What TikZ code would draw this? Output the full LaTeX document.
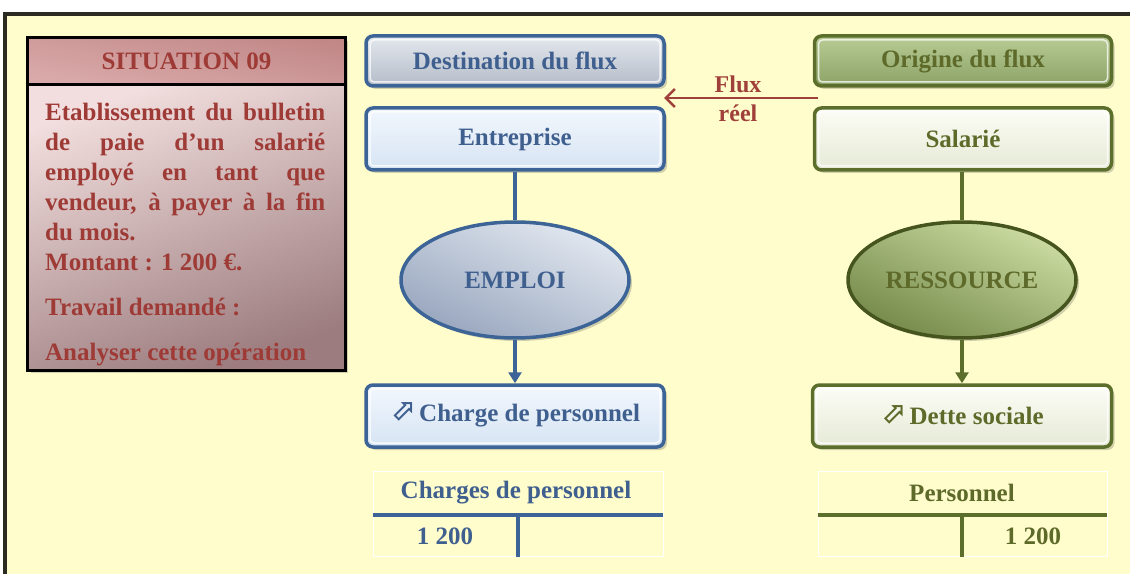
\documentclass[tikz,border=0pt]{standalone}
\usepackage{fontspec}
\setmainfont{Liberation Serif}
\newfontfamily\symfont{DejaVu Sans}
\usetikzlibrary{shapes.geometric,shadows,arrows.meta}
\definecolor{bgyellow}{HTML}{FFFDCB}
\definecolor{framedark}{HTML}{2B2B22}
\definecolor{sitred}{HTML}{9E3B36}
\definecolor{bluebd}{HTML}{3D6496}
\definecolor{bluetx}{HTML}{3F5F8F}
\definecolor{greenbd}{HTML}{5B6E2C}
\definecolor{greentx}{HTML}{5E6A2A}
\definecolor{fluxred}{HTML}{A0403A}
\definecolor{sitheadA}{HTML}{DAAAAA}
\definecolor{sitheadB}{HTML}{C28888}
\definecolor{sitbodyA}{HTML}{F2DEDE}
\definecolor{sitbodyB}{HTML}{9C7C7E}
\definecolor{destA}{HTML}{E4E8EE}
\definecolor{destB}{HTML}{B4BCC8}
\definecolor{lblueA}{HTML}{F2F7FD}
\definecolor{lblueB}{HTML}{D6E4F3}
\definecolor{emploiA}{HTML}{E2E8F0}
\definecolor{emploiB}{HTML}{98A6BE}
\definecolor{origA}{HTML}{B8CC94}
\definecolor{origB}{HTML}{8CA266}
\definecolor{lgreenA}{HTML}{FCFDF6}
\definecolor{lgreenB}{HTML}{E6EAD6}
\definecolor{resA}{HTML}{CCDCA2}
\definecolor{resB}{HTML}{74894A}
\definecolor{resbd}{HTML}{46541E}
\tikzset{
  sh/.style={drop shadow={shadow xshift=3bp,shadow yshift=-3bp,opacity=0.25,fill=black!70}},
  bevel/.style={path picture={\draw[white,opacity=0.75,line width=1.5bp,rounded corners=4bp]
      ([xshift=4bp,yshift=-4bp]path picture bounding box.north west) rectangle
      ([xshift=-4bp,yshift=4bp]path picture bounding box.south east);}},
  bluebox/.style={rectangle,rounded corners=7bp,draw=bluebd,line width=3.5bp,
      minimum width=298bp,text=bluetx,sh,bevel},
  greenbox/.style={rectangle,rounded corners=7bp,draw=greenbd,line width=3.5bp,
      minimum width=297bp,text=greentx,sh,bevel},
  blueline/.style={draw=bluebd,line width=3.5bp},
  greenline/.style={draw=greenbd,line width=3.5bp},
  tframe/.style={draw=white,line width=1bp},
}
\newcommand{\hollowarrow}{\smash{\raisebox{1bp}{\symfont\fontsize{30bp}{30bp}\selectfont ⬀}}}
\begin{document}
\begin{tikzpicture}[x=1bp,y=-1bp,font=\fontsize{25bp}{30bp}\selectfont\bfseries]
\useasboundingbox (0,0) rectangle (1130,574);
% background frame
\fill[bgyellow] (5,14) rectangle (1130,574);
\draw[framedark,line width=4bp] (5,574) -- (5,14) -- (1130,14);

% situation box
\node[rectangle,draw=black,line width=3bp,minimum width=317bp,minimum height=47bp,
      top color=sitheadA,bottom color=sitheadB,shading angle=170,sh,text=sitred]
  (sithead) at (186.5,61.5) {SITUATION 09};
\node[rectangle,draw=black,line width=3bp,minimum width=317bp,minimum height=285bp,
      top color=sitbodyA,bottom color=sitbodyB,shading angle=20,sh]
  (sitbody) at (186.5,227.5) {};
\node[anchor=north west,inner sep=0pt,text width=280bp,align=justify,text=sitred]
  (sittext) at (45,103)
  {Etablissement du bulletin\linebreak de paie d’un salarié\linebreak employé en tant que\linebreak vendeur, à payer à la fin\linebreak du mois.\\ Montant : 1 200 €.\\[15bp] Travail demandé :\\[15bp] Analyser cette opération};

% blue column
\node[bluebox,minimum height=50bp,top color=destA,bottom color=destB] (dest) at (515,61) {Destination du flux};
\node[bluebox,minimum height=62bp,top color=lblueA,bottom color=lblueB] (entr) at (515,139) {Entreprise};
\node[ellipse,draw=bluebd,line width=3.5bp,minimum width=228bp,minimum height=116bp,
      top color=emploiA,bottom color=emploiB,shading angle=-25,sh,text=bluetx] (emploi) at (515,280) {EMPLOI};
\node[bluebox,minimum height=62bp,top color=lblueA,bottom color=lblueB] (charge) at (515,416) {\hollowarrow\,Charge de personnel};
\draw[blueline] (entr) -- (emploi);
\draw[blueline,-{Triangle[width=13bp,length=11bp]}] (emploi) -- (charge);

% left T account
\draw[tframe] (373,471) rectangle (663,556);
\node[text=bluetx] (tlefttitle) at (516,493) {Charges de personnel};
\coordinate (tlA) at (373,515);
\coordinate (tlB) at (663,515);
\coordinate (tlC) at (518,515);
\coordinate (tlD) at (518,557);
\draw[blueline] (tlA) -- (tlB);
\draw[blueline] (tlC) -- (tlD);
\node[text=bluetx] (tleftval) at (445,536) {1 200};

% green column
\node[greenbox,minimum height=50bp,top color=origA,bottom color=origB] (orig) at (963,61) {Origine du flux};
\node[greenbox,minimum height=62bp,top color=lgreenA,bottom color=lgreenB] (sal) at (963,139) {Salarié};
\node[ellipse,draw=resbd,line width=3.5bp,minimum width=228bp,minimum height=116bp,
      top color=resA,bottom color=resB,shading angle=-25,sh,text=greentx] (res) at (962,280) {RESSOURCE};
\node[greenbox,minimum width=299bp,minimum height=62bp,top color=lgreenA,bottom color=lgreenB] (dette) at (962,416) {\hollowarrow\,Dette sociale};
\draw[greenline] (sal.south -| res.north) -- (res);
\draw[greenline,-{Triangle[width=13bp,length=11bp]}] (res) -- (dette);

% right T account
\draw[tframe] (818,471) rectangle (1107,556);
\node[text=greentx] (trighttitle) at (962,493) {Personnel};
\coordinate (trA) at (818,515);
\coordinate (trB) at (1107,515);
\coordinate (trC) at (962,515);
\coordinate (trD) at (962,557);
\draw[greenline] (trA) -- (trB);
\draw[greenline] (trC) -- (trD);
\node[text=greentx] (trightval) at (1033,536) {1 200};

% flux arrow
\coordinate (fluxstart) at (818,98);
\coordinate (fluxend) at (664,98);
\draw[fluxred,line width=2.5bp,-{Straight Barb[length=9bp,width=18bp,line width=2.5bp]}] (fluxstart) -- (fluxend);
\node[text=fluxred,font=\fontsize{24bp}{24bp}\selectfont\bfseries] (fluxlab) at (738,84) {Flux};
\node[text=fluxred,font=\fontsize{24bp}{24bp}\selectfont\bfseries] (reellab) at (738,113) {réel};
\end{tikzpicture}
\end{document}
